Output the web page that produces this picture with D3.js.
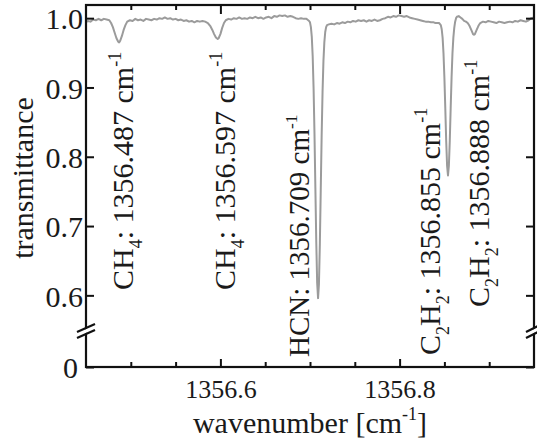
<!DOCTYPE html>
<html><head><meta charset="utf-8">
<script src="https://cdn.jsdelivr.net/npm/d3@7"></script>
<style>
body{margin:0;background:#fff}
text{font-family:"Liberation Serif","Times New Roman",serif;fill:#1a1a1a}
</style>
</head><body><svg id="c" width="537" height="443"></svg>
<script>
// ---------- data ----------
const wavenumber = [
1356.450,1356.452,1356.455,1356.458,1356.461,1356.464,1356.467,1356.470,1356.473,1356.476,
1356.478,1356.480,1356.482,1356.484,1356.486,1356.487,1356.488,1356.490,1356.492,1356.494,
1356.496,1356.499,1356.502,1356.505,1356.508,1356.511,1356.514,1356.517,1356.520,1356.523,
1356.526,1356.529,1356.532,1356.535,1356.538,1356.541,1356.544,1356.547,1356.550,1356.553,
1356.556,1356.559,1356.562,1356.565,1356.568,1356.571,1356.574,1356.577,1356.580,1356.583,
1356.586,1356.589,1356.591,1356.593,1356.595,1356.597,1356.598,1356.600,1356.602,1356.604,
1356.606,1356.609,1356.612,1356.615,1356.618,1356.621,1356.624,1356.627,1356.630,1356.633,
1356.636,1356.639,1356.642,1356.645,1356.648,1356.651,1356.654,1356.657,1356.660,1356.663,
1356.666,1356.669,1356.672,1356.675,1356.678,1356.681,1356.684,1356.687,1356.690,1356.693,
1356.696,1356.697,1356.698,1356.699,1356.700,1356.701,1356.702,1356.703,1356.704,1356.705,
1356.706,1356.707,1356.708,1356.709,1356.710,1356.711,1356.712,1356.713,1356.714,1356.715,
1356.716,1356.717,1356.718,1356.719,1356.721,1356.724,1356.727,1356.730,1356.733,1356.736,
1356.739,1356.742,1356.745,1356.748,1356.751,1356.754,1356.757,1356.760,1356.763,1356.766,
1356.769,1356.772,1356.775,1356.778,1356.781,1356.784,1356.787,1356.790,1356.793,1356.796,
1356.799,1356.802,1356.805,1356.808,1356.811,1356.814,1356.817,1356.820,1356.823,1356.826,
1356.829,1356.832,1356.835,1356.838,1356.840,1356.842,1356.844,1356.846,1356.847,1356.848,
1356.849,1356.850,1356.851,1356.852,1356.853,1356.854,1356.855,1356.856,1356.857,1356.858,
1356.859,1356.860,1356.861,1356.862,1356.863,1356.864,1356.866,1356.868,1356.870,1356.872,
1356.874,1356.876,1356.878,1356.880,1356.882,1356.883,1356.884,1356.886,1356.888,1356.890,
1356.893,1356.896,1356.899,1356.902,1356.905,1356.908,1356.911,1356.914,1356.917,1356.920,
1356.923,1356.926,1356.929,1356.932,1356.935,1356.938,1356.941,1356.944,1356.947,1356.950
];
const transmittance = [
0.994,0.996,0.995,0.998,0.997,0.999,0.997,0.999,0.998,0.997,
0.993,0.987,0.979,0.971,0.966,0.965,0.967,0.974,0.983,0.990,
0.995,0.997,0.996,0.999,0.997,0.998,0.996,0.999,0.998,0.997,
0.999,0.998,1.000,0.999,1.001,0.999,1.000,0.998,0.999,0.997,
0.998,0.996,0.997,0.995,0.996,0.994,0.996,0.995,0.996,0.995,
0.993,0.988,0.983,0.977,0.972,0.970,0.971,0.977,0.986,0.993,
0.997,0.999,0.998,1.000,0.999,1.001,0.999,1.000,0.999,1.001,
1.000,1.002,1.000,1.001,0.999,1.001,1.002,1.000,1.003,1.002,
1.004,1.003,1.004,1.002,1.003,1.002,1.000,0.999,1.000,0.999,
0.999,0.998,0.997,0.996,0.994,0.987,0.973,0.945,0.899,0.834,
0.755,0.677,0.618,0.596,0.617,0.675,0.752,0.830,0.893,0.938,
0.965,0.980,0.987,0.990,0.991,0.992,0.991,0.993,0.992,0.994,
0.993,0.995,0.994,0.996,0.995,0.997,0.996,0.997,0.995,0.997,
0.996,0.998,0.996,0.997,0.999,1.000,1.002,1.001,1.003,1.002,
1.004,1.003,1.002,1.003,1.001,1.000,0.999,0.998,0.997,0.996,
0.995,0.995,0.994,0.994,0.993,0.993,0.993,0.990,0.984,0.972,
0.949,0.914,0.870,0.823,0.787,0.773,0.787,0.823,0.870,0.914,
0.949,0.972,0.986,0.995,1.000,1.002,1.003,1.001,0.999,0.996,
0.995,0.993,0.989,0.983,0.977,0.976,0.977,0.983,0.989,0.993,
0.995,0.994,0.996,0.995,0.994,0.993,0.995,0.994,0.993,0.994,
0.995,0.994,0.996,0.995,0.997,0.996,0.995,0.997,1.000,1.001
];
const xMajorTicks = [1356.6, 1356.8];
const xMinorTicks = [1356.5, 1356.55, 1356.65, 1356.7, 1356.75, 1356.85, 1356.9];
const yTicks = [0, 0.6, 0.7, 0.8, 0.9, 1.0];
const yTickLabels = ["0", "0.6", "0.7", "0.8", "0.9", "1.0"];
const lineSpecies = [
  [{t:"CH"},{t:"4",s:"sub"},{t:": "}],
  [{t:"CH"},{t:"4",s:"sub"},{t:": "}],
  [{t:"HCN: "}],
  [{t:"C"},{t:"2",s:"sub"},{t:"H"},{t:"2",s:"sub"},{t:": "}],
  [{t:"C"},{t:"2",s:"sub"},{t:"H"},{t:"2",s:"sub"},{t:": "}]
];
const lineCenters = ["1356.487", "1356.597", "1356.709", "1356.855", "1356.888"];

// ---------- layout ----------
const L = 86, R = 534, T = 5, B = 367;
const labelDx = [14, 17, -9, -9, 11];
const labelBottom = [290, 290, 357, 355, 307];
const labelSize = [30, 30, 29, 30, 30];

const svg = d3.select("#c");
const x = d3.scaleLinear().domain([1356.45, 1356.95]).range([L, R]);
const y = d3.scaleLinear().domain([0, 0.55, 1.019]).range([B, 330, T]);

svg.append("defs").append("clipPath").attr("id","clip")
  .append("rect").attr("x",L).attr("y",T).attr("width",R-L).attr("height",B-T);

// curve
const pts = wavenumber.map((w,i)=>[w, transmittance[i]]);
svg.append("path").datum(pts)
  .attr("clip-path","url(#clip)")
  .attr("fill","none").attr("stroke","#9b9b9b").attr("stroke-width",2)
  .attr("stroke-linejoin","round")
  .attr("d", d3.line().x(d=>x(d[0])).y(d=>y(d[1])));

function styleAxis(g){
  g.select(".domain").remove();
  g.selectAll(".tick line").attr("stroke","#111").attr("stroke-width",2);
}
// x axes
svg.append("g").attr("transform",`translate(0,${B})`)
  .call(d3.axisBottom(x).tickValues(xMajorTicks).tickSize(-8).tickPadding(0).tickFormat(d3.format(".1f")))
  .call(styleAxis)
  .call(g=>g.selectAll(".tick text").attr("y",31).attr("dy",0).attr("font-size",26)
      .attr("fill","#1a1a1a"));
svg.append("g").attr("transform",`translate(0,${B})`)
  .call(d3.axisBottom(x).tickValues(xMinorTicks).tickSize(-5).tickFormat(""))
  .call(styleAxis);
svg.append("g").attr("transform",`translate(0,${T})`)
  .call(d3.axisTop(x).tickValues(xMajorTicks).tickSize(-9).tickFormat(""))
  .call(styleAxis);
svg.append("g").attr("transform",`translate(0,${T})`)
  .call(d3.axisTop(x).tickValues(xMinorTicks).tickSize(-5).tickFormat(""))
  .call(styleAxis);
// y axes
svg.append("g").attr("transform",`translate(${L},0)`)
  .call(d3.axisLeft(y).tickValues(yTicks).tickSize(-8).tickPadding(3)
      .tickFormat((d,i)=>yTickLabels[i]))
  .call(styleAxis)
  .call(g=>g.selectAll(".tick text").attr("x",-3).attr("dy","0.36em").attr("font-size",30)
      .attr("fill","#1a1a1a"))
  .call(g=>g.selectAll(".tick").filter(d=>d===0).select("text").attr("x",-8));
svg.append("g").attr("transform",`translate(${R},0)`)
  .call(d3.axisRight(y).tickValues(yTicks).tickSize(-8).tickFormat(""))
  .call(styleAxis);

// frame
svg.append("rect").attr("x",L).attr("y",T).attr("width",R-L).attr("height",B-T)
  .attr("fill","none").attr("stroke","#111").attr("stroke-width",2.2);

// axis breaks
function brk(cy, x0, x1){
  const h = 3, s = 4;
  svg.append("polygon")
    .attr("points",`${x0},${cy+s+h-1} ${x1},${cy-s+h-1} ${x1},${cy-s-h+1} ${x0},${cy+s-h+1}`)
    .attr("fill","#fff");
  [-h,h].forEach(o=>svg.append("line")
    .attr("x1",x0).attr("y1",cy+s+o).attr("x2",x1).attr("y2",cy-s+o)
    .attr("stroke","#111").attr("stroke-width",2.2));
}
brk(331, L-9, L+9);
brk(331, R-8, R+8);

// rich text helper
function rich(sel, parts, size){
  let shift = 0;
  parts.forEach(p=>{
    const target = p.s==="sub" ? size*0.3 : p.s==="sup" ? -size*0.42 : 0;
    sel.append("tspan").attr("dy", target-shift)
      .attr("font-size", p.s ? size*0.6 : size).text(p.t);
    shift = target;
  });
}

// line labels
lineCenters.forEach((c,i)=>{
  const tx = x(+c) + labelDx[i], ty = labelBottom[i];
  const t = svg.append("text").attr("transform",`translate(${tx},${ty}) rotate(-90)`)
    .attr("font-size",labelSize[i]);
  rich(t, lineSpecies[i].concat([{t:c+" cm"},{t:"-1",s:"sup"}]), labelSize[i]);
});

// axis titles
svg.append("text").attr("transform","translate(33,178) rotate(-90)")
  .attr("text-anchor","middle").attr("font-size",30).text("transmittance");
const xt = svg.append("text").attr("x",(L+R)/2).attr("y",433)
  .attr("text-anchor","middle").attr("font-size",30);
rich(xt, [{t:"wavenumber [cm"},{t:"-1",s:"sup"},{t:"]"}], 30);
</script></body></html>
